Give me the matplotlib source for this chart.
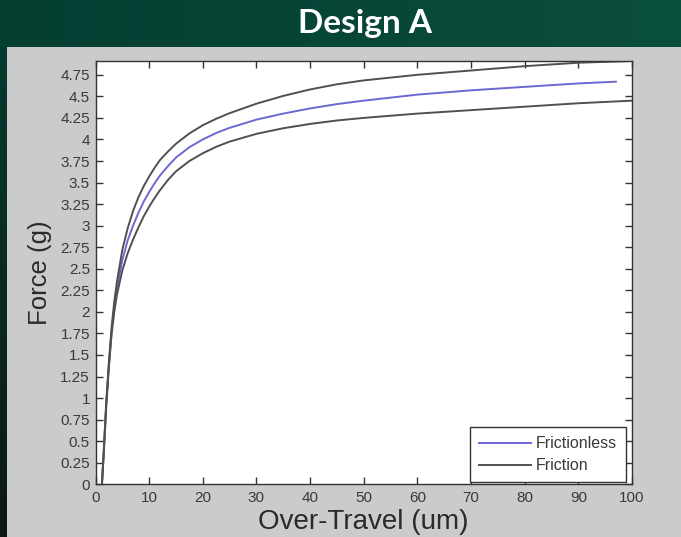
import matplotlib
matplotlib.use("Agg")
import matplotlib.pyplot as plt
import numpy as np
from matplotlib.patches import Rectangle

# over-travel (um) and force (g)
travel = [1.2, 1.5, 2, 2.5, 3, 3.5, 4, 5, 6, 7, 8, 9, 10, 11, 12, 13.5, 15, 17.5, 20, 22.5, 25,
          30, 35, 40, 45, 50, 60, 70, 80, 90, 100]
friction_hi = [0, 0.35, 0.95, 1.42, 1.82, 2.12, 2.35, 2.72, 2.97, 3.17, 3.33, 3.46, 3.57, 3.67,
               3.76, 3.86, 3.95, 4.07, 4.165, 4.24, 4.305, 4.415, 4.505, 4.58, 4.64, 4.685, 4.75,
               4.80, 4.85, 4.89, 4.91]
friction_lo = [0, 0.31, 0.90, 1.36, 1.74, 2.00, 2.20, 2.48, 2.68, 2.84, 2.98, 3.11, 3.22, 3.32,
               3.41, 3.53, 3.63, 3.75, 3.84, 3.915, 3.975, 4.065, 4.13, 4.18, 4.22, 4.25, 4.30,
               4.34, 4.38, 4.42, 4.45]
travel_nf = [1.2, 1.5, 2, 2.5, 3, 3.5, 4, 5, 6, 7, 8, 9, 10, 11, 12, 13.5, 15, 17.5, 20, 22.5, 25,
             30, 35, 40, 45, 50, 60, 70, 80, 90, 97]
frictionless = [0, 0.33, 0.93, 1.39, 1.78, 2.06, 2.28, 2.60, 2.83, 3.00, 3.15, 3.28, 3.39, 3.49,
                3.58, 3.69, 3.79, 3.91, 4.00, 4.075, 4.135, 4.23, 4.30, 4.36, 4.41, 4.45, 4.52,
                4.57, 4.61, 4.65, 4.67]

xticks = np.arange(0, 101, 10)
yticks = np.arange(0, 4.76, 0.25)
ytick_labels = ['0', '0.25', '0.5', '0.75', '1', '1.25', '1.5', '1.75', '2', '2.25', '2.5',
                '2.75', '3', '3.25', '3.5', '3.75', '4', '4.25', '4.5', '4.75']

W, H = 681, 537
fig = plt.figure(figsize=(W / 100, H / 100), dpi=100)

# slide background
bg = fig.add_axes([0, 0, 1, 1])
bg.axis('off')
c1 = np.array([0x04, 0x3f, 0x32]) / 255
c2 = np.array([0x0a, 0x4e, 0x3d]) / 255
t = np.linspace(0, 1, 200)
band = (c1[None, :] * (1 - t[:, None]) + c2[None, :] * t[:, None])[None, :, :]
bg.imshow(band, extent=(0, W, 47, 0), aspect='auto')
s1 = np.array([0x06, 0x3a, 0x2e]) / 255
s2 = np.array([0x0c, 0x18, 0x15]) / 255
strip = (s1[None, :] * (1 - t[:, None]) + s2[None, :] * t[:, None])[:, None, :]
bg.imshow(strip, extent=(0, 7, H, 47), aspect='auto')
bg.add_patch(Rectangle((7, 47), W - 7, H - 47, color='#cbcbcb', lw=0))
bg.set_xlim(0, W)
bg.set_ylim(H, 0)
bg.text(365, 23, 'Design A', color='white', fontsize=24, fontweight='bold',
        family='Lato', ha='center', va='center')

# the plot
ax = fig.add_axes([95.5 / W, 1 - 484.3 / H, 536.5 / W, 423.3 / H])
ax.plot(travel_nf, frictionless, color='#6b68d2', lw=1.4, label='Frictionless')
ax.plot(travel, friction_hi, color='#505050', lw=1.4, label='Friction')
ax.plot(travel, friction_lo, color='#505050', lw=1.4)

ax.set_xlim(0, 100)
ax.set_ylim(0, 4.91)
ax.set_xticks(xticks)
ax.set_yticks(yticks)
ax.set_yticklabels(ytick_labels)
ax.tick_params(direction='in', length=5, width=1, top=True, right=True,
               labelsize=11, labelcolor='#3a3a3a', color='#333333')
ax.tick_params(axis='x', pad=5)
ax.tick_params(axis='y', pad=4)
for lab in ax.get_xticklabels() + ax.get_yticklabels():
    lab.set_family('Liberation Sans')
for sp in ax.spines.values():
    sp.set_color('#333333')
    sp.set_linewidth(1)

ax.set_xlabel('Over-Travel (um)', fontsize=20, family='Liberation Sans', color='#2a2a2a', labelpad=3)
ax.set_ylabel('Force (g)', fontsize=18.5, family='Liberation Sans', color='#2a2a2a', labelpad=6)

leg = ax.legend(loc='lower right', bbox_to_anchor=(0.989, 0.005), borderaxespad=0,
                fancybox=False, framealpha=1, edgecolor='#333333',
                prop={'family': 'Liberation Sans', 'size': 11.5},
                handlelength=3.3, handletextpad=0.3, labelspacing=0.45,
                borderpad=0.55)
leg.get_frame().set_linewidth(1)
for txt in leg.get_texts():
    txt.set_color('#3a3a3a')

fig.savefig('out.png', dpi=100)
